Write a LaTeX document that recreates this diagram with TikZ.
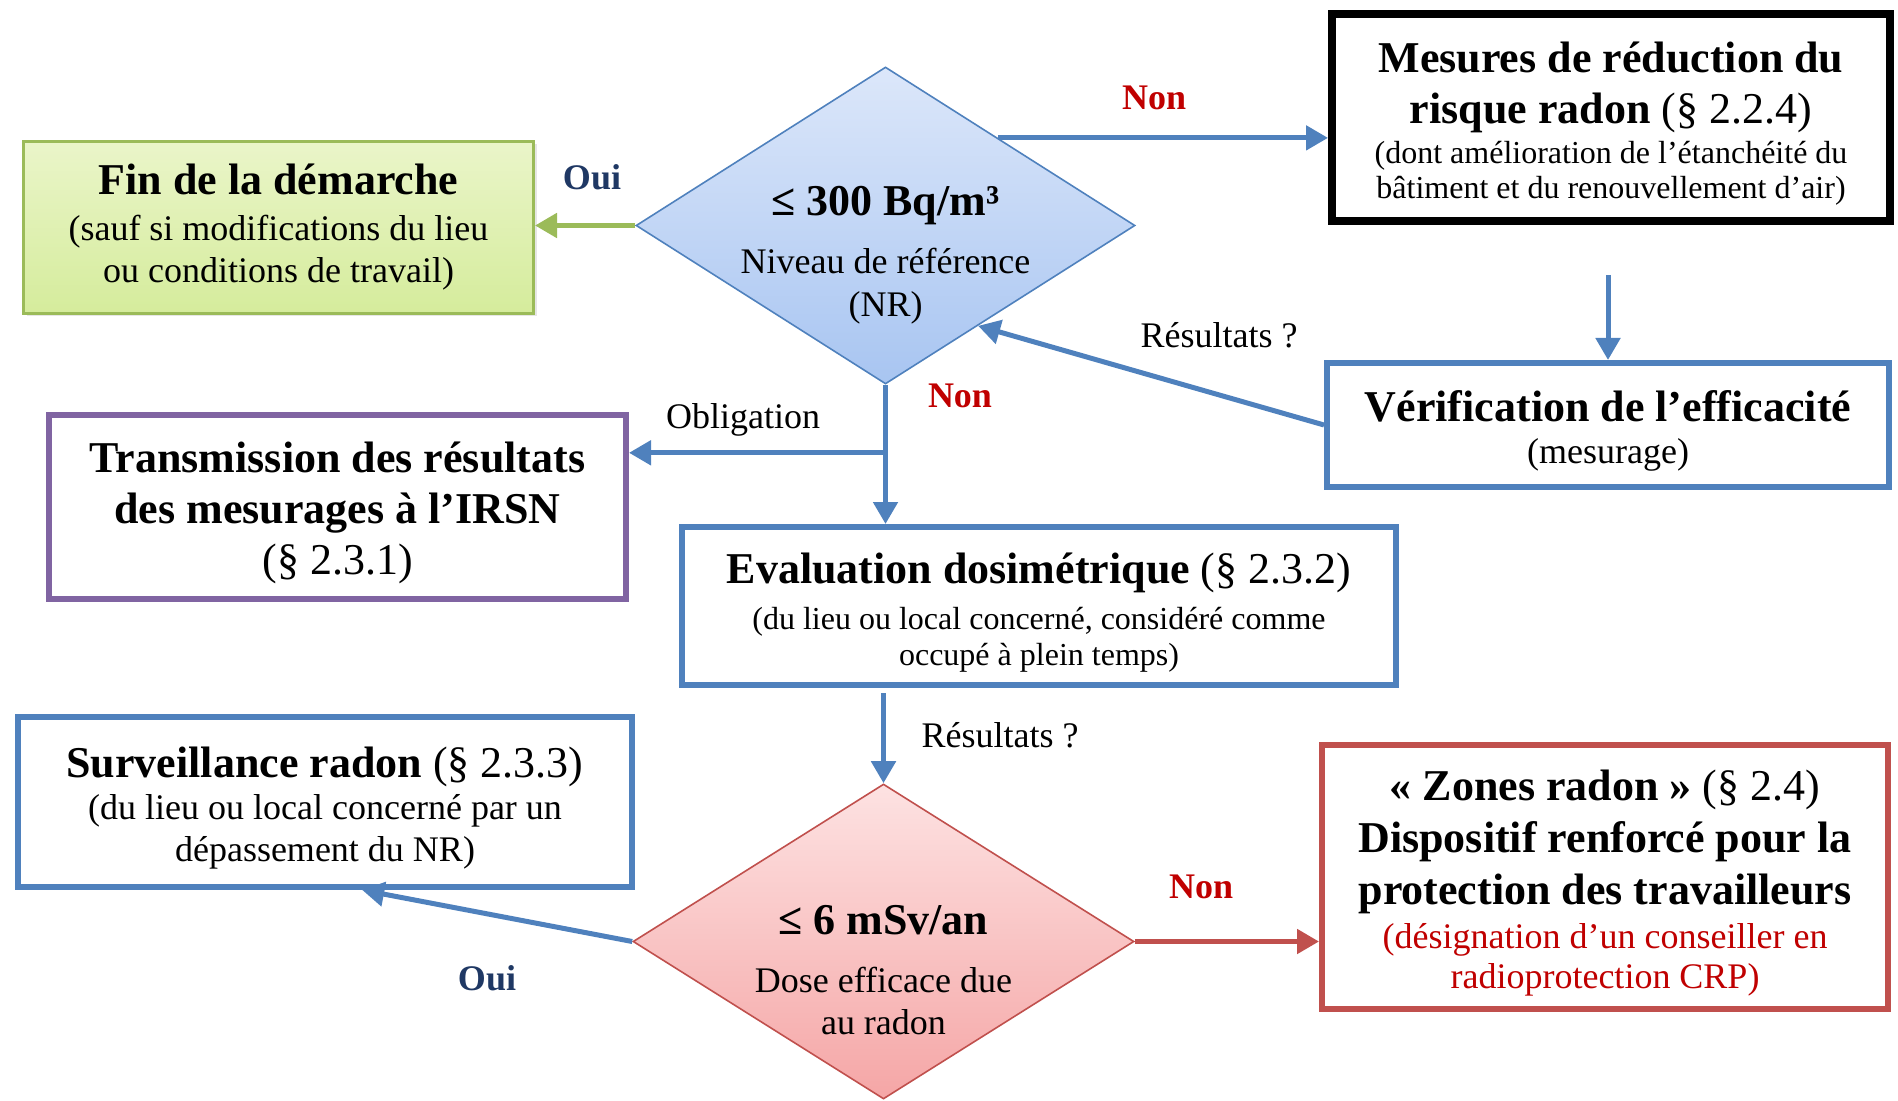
\documentclass[tikz,border=0pt]{standalone}
\usepackage{fontspec}
\setmainfont{Liberation Serif}
\usepackage{tikz}
\usetikzlibrary{positioning,arrows.meta,shapes.geometric,shadows,calc}
\usepackage{xcolor}
\definecolor{blueline}{HTML}{4F81BD}
\definecolor{greenline}{HTML}{9BBB59}
\definecolor{purpleline}{HTML}{8064A2}
\definecolor{redline}{HTML}{C0504D}
\definecolor{nontxt}{HTML}{C00000}
\definecolor{ouitxt}{HTML}{1F3864}
\definecolor{fintop}{HTML}{EAF5C9}
\definecolor{finbot}{HTML}{D5EC9C}
\definecolor{d1top}{HTML}{DCE7FA}
\definecolor{d1bot}{HTML}{A8C5F1}
\definecolor{d2top}{HTML}{FDE2E2}
\definecolor{d2bot}{HTML}{F5A6A6}
\newcommand{\bigtxt}{\fontsize{22}{25.5}\selectfont}
\newcommand{\midtxt}{\fontsize{18}{21}\selectfont}
\newcommand{\smltxt}{\fontsize{16}{18}\selectfont}
\newcommand{\topgap}{\rule{0pt}{21.5pt}}

\begin{document}
\begin{tikzpicture}[x=0.5pt,y=-0.5pt]
    \tikzstyle{box}=[draw=blueline,fill=white,line width=3pt,align=center,inner sep=0pt,font=\bigtxt,drop shadow={shadow xshift=1.5pt,shadow yshift=-1.5pt,opacity=0.2}]
    \tikzstyle{test}=[diamond,inner sep=0pt,line width=0.8pt]
    \tikzstyle{arr}=[-{Triangle[length=11pt,width=12pt]},line width=2.5pt,blueline]
    \tikzstyle{lbl}=[font=\midtxt]
    \tikzstyle{lblnon}=[font=\midtxt\bfseries,text=nontxt]
    \tikzstyle{lbloui}=[font=\midtxt\bfseries,text=ouitxt]
    \useasboundingbox (0,0) rectangle (1898,1101);

    % decisions
    \node[test,draw=blueline,top color=d1top,bottom color=d1bot,minimum width=249.5pt,minimum height=158.5pt] (seuil) at (885.5,225.5) {};
    \node[font=\bigtxt,align=center] (seuiltxt) at ([yshift=-15pt]seuil.center) {\textbf{≤ 300 Bq/m³}\\[3.5pt]{\midtxt Niveau de référence}\\[-4pt]{\midtxt (NR)}};
    \node[test,draw=redline,top color=d2top,bottom color=d2bot,minimum width=250.5pt,minimum height=157.5pt] (dose) at (883.5,941.5) {};
    \node[font=\bigtxt,align=center] (dosetxt) at ([yshift=-14.5pt]dose.center) {\textbf{≤ 6 mSv/an}\\[3.5pt]{\midtxt Dose efficace due}\\[-4.5pt]{\midtxt au radon}};

    % boxes
    \node[box,draw=greenline,line width=1.5pt,top color=fintop,bottom color=finbot,minimum width=255pt,minimum height=86pt] (fin) at (278.5,227.5) {\textbf{Fin de la démarche}\\[-2.5pt]{\midtxt (sauf si modifications du lieu}\\[-4.5pt]{\midtxt ou conditions de travail)}};
    \node[box,draw=black,line width=4pt,minimum width=279pt,minimum height=103.5pt] (mes) at (1611,117.5) {\topgap\textbf{Mesures de réduction du}\\\textbf{risque radon} (§ 2.2.4)\\[-5.5pt]{\smltxt (dont amélioration de l’étanchéité du}\\[-8pt]{\smltxt bâtiment et du renouvellement d’air)}};
    \node[box,minimum width=281pt,minimum height=62pt] (verif) at (1608,425) {\topgap\textbf{Vérification de l’efficacité}\\[-4.5pt]{\midtxt (mesurage)}};
    \node[box,draw=purpleline,minimum width=288.5pt,minimum height=92pt] (trans) at (337.5,507) {\topgap\textbf{Transmission des résultats}\\\textbf{des mesurages à l’IRSN}\\(§ 2.3.1)};
    \node[box,minimum width=357pt,minimum height=79pt] (eval) at (1039,606) {\topgap\textbf{Evaluation dosimétrique} (§ 2.3.2)\\[-2.5pt]{\smltxt (du lieu ou local concerné, considéré comme}\\[-7.5pt]{\smltxt occupé à plein temps)}};
    \node[box,minimum width=307pt,minimum height=85pt] (surv) at (325,802) {\topgap\textbf{Surveillance radon} (§ 2.3.3)\\[-4.5pt]{\midtxt (du lieu ou local concerné par un}\\[-4.5pt]{\midtxt dépassement du NR)}};
    \node[box,draw=redline,minimum width=283pt,minimum height=132pt] (zones) at (1605,877) {\topgap\textbf{«~Zones radon~»} (§ 2.4)\\[0.5pt]\textbf{Dispositif renforcé pour la}\\[0.5pt]\textbf{protection des travailleurs}\\[-3.5pt]{\midtxt\color{nontxt}(désignation d’un conseiller en}\\[-5.5pt]{\midtxt\color{nontxt}radioprotection CRP)}};

    % connectors
    \draw[arr,greenline] (seuil.west) -- (seuil.west -| fin.east);
    \path ($(seuil.north)!0.45!(seuil.east)$) coordinate (sne);
    \draw[arr] (sne) -- (sne -| mes.west);
    \path ([yshift=-25pt]mes.south) coordinate (mtap);
    \draw[arr] (mtap -| verif.north) -- (verif.north);
    \draw[arr] (verif.west) -- ($(seuil.east)!0.63!(seuil.south)$);
    \draw[arr] (seuil.south) -- (seuil.south |- eval.north);
    \path (seuil.south) ++(0,68) coordinate (obl);
    \draw[arr] (obl) -- (obl -| trans.east);
    \path (eval.south) ++(0,5) coordinate (etap);
    \draw[arr] (etap -| dose.north) -- (dose.north);
    \draw[arr] (dose.west) -- ($(surv.south west)!0.56!(surv.south east)$);
    \draw[arr,redline] (dose.east) -- (dose.east -| zones.west);

    % labels
    \node[lblnon] (non1) at (1154,98) {Non};
    \node[lbloui] (oui1) at (592,177) {Oui};
    \node[lbl] (res1) at (1219,335) {Résultats ?};
    \node[lblnon] (non2) at (960,396) {Non};
    \node[lbl] (oblig) at (743,420) {Obligation};
    \node[lbl] (res2) at (1000,735) {Résultats ?};
    \node[lblnon] (non3) at (1201,887) {Non};
    \node[lbloui] (oui2) at (487,978) {Oui};
\end{tikzpicture}
\end{document}
